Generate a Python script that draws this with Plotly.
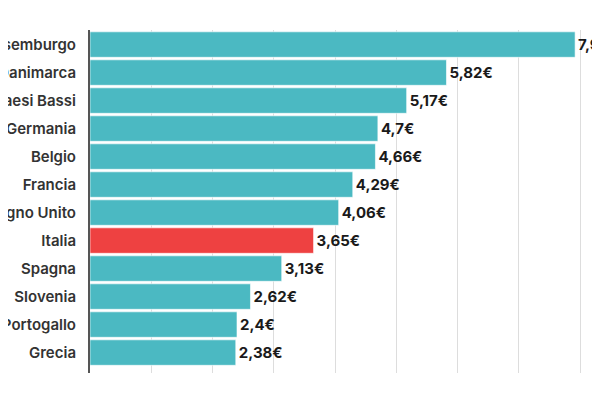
import plotly.graph_objects as go

# data (euro, Italian decimal comma)
paesi = ["Lussemburgo", "Danimarca", "Paesi Bassi", "Germania", "Belgio", "Francia",
         "Regno Unito", "Italia", "Spagna", "Slovenia", "Portogallo", "Grecia"]
valori = [7.92, 5.82, 5.17, 4.7, 4.66, 4.29, 4.06, 3.65, 3.13, 2.62, 2.4, 2.38]

TEAL = "#4bb9c2"
RED = "#ee4141"

colori = [RED if p == "Italia" else TEAL for p in paesi]
etichette = [f"{v:g}".replace(".", ",") + "€" for v in valori]

fig = go.Figure()
fig.add_trace(go.Bar(
    y=paesi,
    x=valori,
    orientation="h",
    marker=dict(color=colori, line=dict(color="rgba(255,255,255,0.6)", width=1)),
    text=etichette,
    textposition="outside",
    textfont=dict(family="Inter", size=15, color="#1a1a1a", weight="bold"),
    cliponaxis=False,
    constraintext="none",
    hoverinfo="skip",
))

# the page adds an 8px body margin, so the margins are set 8px smaller
fig.update_layout(
    width=600,
    height=400,
    margin=dict(l=82, r=0, t=22, b=35),
    plot_bgcolor="white",
    paper_bgcolor="white",
    bargap=0.09,
    showlegend=False,
    font=dict(family="Inter"),
)

fig.update_xaxes(
    range=[0, 8.457],
    dtick=1,
    showticklabels=False,
    showgrid=True,
    gridcolor="#dddddd",
    gridwidth=1,
    zeroline=False,
    showline=False,
    automargin=False,
)

fig.update_yaxes(
    type="category",
    categoryorder="array",
    categoryarray=paesi,
    range=[11.73, -0.52],
    showgrid=False,
    showline=True,
    linecolor="#555555",
    linewidth=2,
    ticks="",
    ticklabelstandoff=9,
    tickfont=dict(family="Inter", size=15, color="#333333", weight=600),
    automargin=False,
)

fig.write_html("out.html")
